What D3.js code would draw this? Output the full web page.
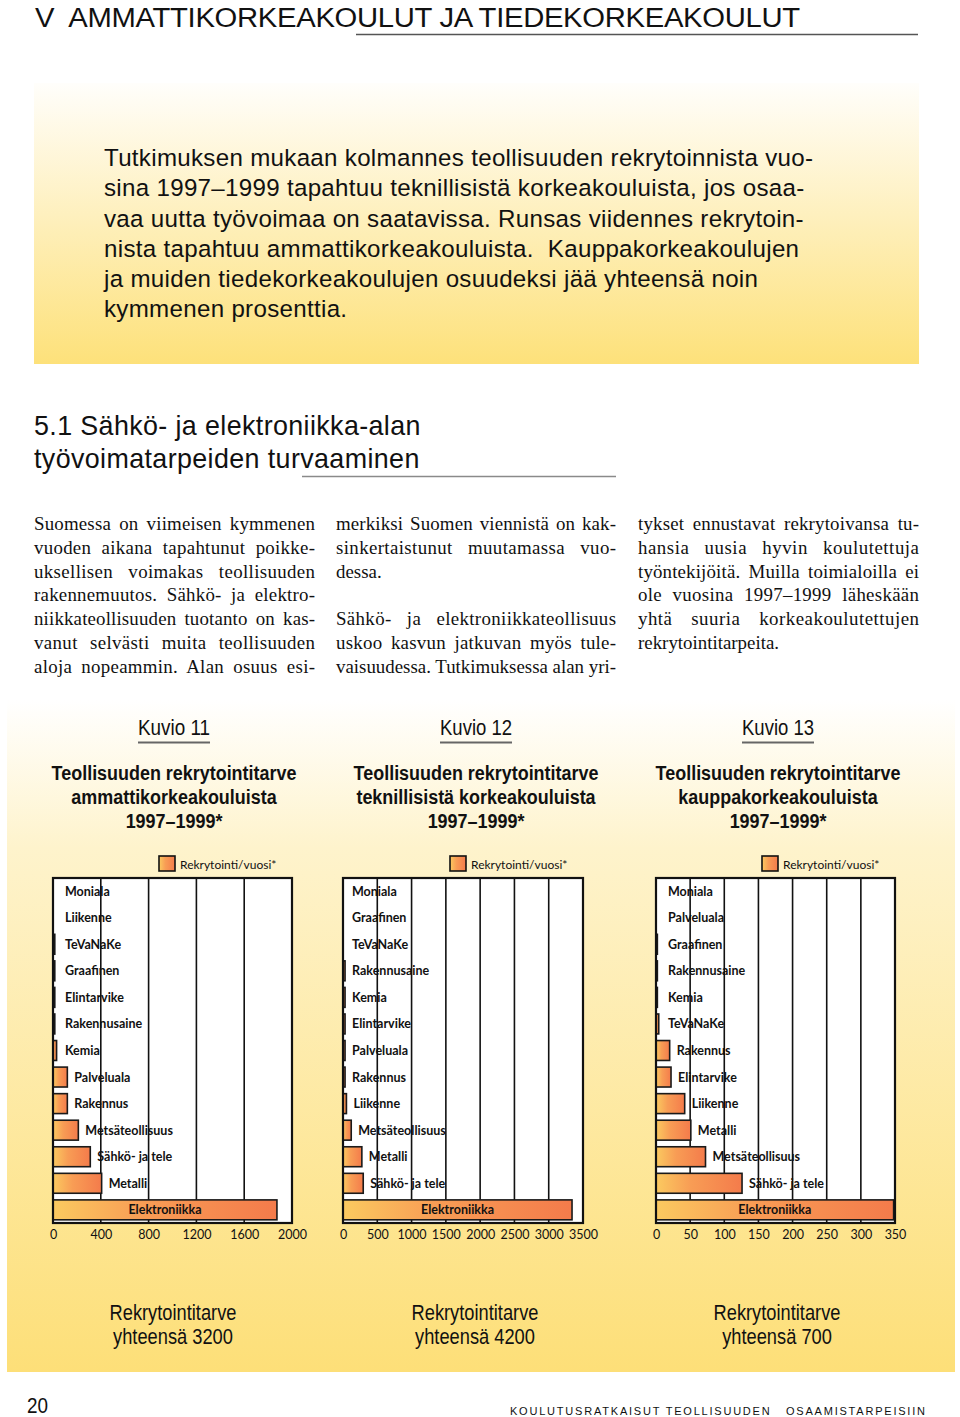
<!DOCTYPE html>
<html><head><meta charset="utf-8">
<script src="https://cdn.jsdelivr.net/npm/d3@7"></script>
<style>body{margin:0;background:#fff}svg{display:block}</style>
</head><body>
<script>
// ---------- DATA ----------
const categories1 = ["Moniala","Liikenne","TeVaNaKe","Graafinen","Elintarvike","Rakennusaine","Kemia","Palveluala","Rakennus","Metsäteollisuus","Sähkö- ja tele","Metalli","Elektroniikka"];
const values1 = [0,0,15,15,15,15,30,120,120,212,312,407,1874];
const ticks1 = [0,400,800,1200,1600,2000];

const categories2 = ["Moniala","Graafinen","TeVaNaKe","Rakennusaine","Kemia","Elintarvike","Palveluala","Rakennus","Liikenne","Metsäteollisuus","Metalli","Sähkö- ja tele","Elektroniikka"];
const values2 = [0,0,0,30,30,30,30,30,50,120,275,295,3340];
const ticks2 = [0,500,1000,1500,2000,2500,3000,3500];

const categories3 = ["Moniala","Palveluala","Graafinen","Rakennusaine","Kemia","TeVaNaKe","Rakennus","Elintarvike","Liikenne","Metalli","Metsäteollisuus","Sähkö- ja tele","Elektroniikka"];
const values3 = [0,0,2,2,2,4,20,22,42,51,72.5,126,348];
const ticks3 = [0,50,100,150,200,250,300,350];

const figureLabels = ["Kuvio 11","Kuvio 12","Kuvio 13"];
const figureTitles = [
  ["Teollisuuden rekrytointitarve","ammattikorkeakouluista","1997–1999*"],
  ["Teollisuuden rekrytointitarve","teknillisistä korkeakouluista","1997–1999*"],
  ["Teollisuuden rekrytointitarve","kauppakorkeakouluista","1997–1999*"]
];
const totals = [3200, 4200, 700];
const legendLabel = "Rekrytointi/vuosi*";

const chapterTitle = "V  AMMATTIKORKEAKOULUT JA TIEDEKORKEAKOULUT";
const introLines = [
  "Tutkimuksen mukaan kolmannes teollisuuden rekrytoinnista vuo-",
  "sina 1997–1999 tapahtuu teknillisistä korkeakouluista, jos osaa-",
  "vaa uutta työvoimaa on saatavissa. Runsas viidennes rekrytoin-",
  "nista tapahtuu ammattikorkeakouluista.  Kauppakorkeakoulujen",
  "ja muiden tiedekorkeakoulujen osuudeksi jää yhteensä noin",
  "kymmenen prosenttia."
];
const sectionLines = ["5.1 Sähkö- ja elektroniikka-alan","työvoimatarpeiden turvaaminen"];
const bodyCol1 = ["Suomessa on viimeisen kymmenen","vuoden aikana tapahtunut poikke-","uksellisen voimakas teollisuuden","rakennemuutos. Sähkö- ja elektro-","niikkateollisuuden tuotanto on kas-","vanut selvästi muita teollisuuden","aloja nopeammin. Alan osuus esi-"];
const bodyCol2 = ["merkiksi Suomen viennistä on kak-","sinkertaistunut muutamassa vuo-","dessa.","","Sähkö- ja elektroniikkateollisuus","uskoo kasvun jatkuvan myös tule-","vaisuudessa. Tutkimuksessa alan yri-"];
const bodyCol3 = ["tykset ennustavat rekrytoivansa tu-","hansia uusia hyvin koulutettuja","työntekijöitä. Muilla toimialoilla ei","ole vuosina 1997–1999 läheskään","yhtä suuria korkeakoulutettujen","rekrytointitarpeita."];
const pageNumber = "20";
const footerText = "KOULUTUSRATKAISUT TEOLLISUUDEN   OSAAMISTARPEISIIN";

// ---------- SETUP ----------
const W = 960, H = 1417;
const SANS = "'Liberation Sans', Arial, sans-serif";
const SERIF = "'Liberation Serif', 'Times New Roman', serif";
const LABEL = "Lato, 'Noto Sans', sans-serif";
const svg = d3.select("body").append("svg").attr("width", W).attr("height", H);
const defs = svg.append("defs");

function vGrad(id, stops) {
  const g = defs.append("linearGradient").attr("id", id).attr("x1",0).attr("y1",0).attr("x2",0).attr("y2",1);
  stops.forEach(s => g.append("stop").attr("offset", s[0]).attr("stop-color", s[1]));
}
vGrad("topBox", [[0,"#fffefb"],[0.5,"#feefba"],[1,"#fde17a"]]);
vGrad("bottomBox", [[0,"#ffffff"],[0.22,"#fef3cc"],[1,"#fddf78"]]);
const bg = defs.append("linearGradient").attr("id","barGrad").attr("x1",0).attr("y1",0).attr("x2",1).attr("y2",0);
[[0,"#fbca60"],[0.4,"#f89d55"],[1,"#f47b4b"]].forEach(s => bg.append("stop").attr("offset", s[0]).attr("stop-color", s[1]));

// condensed multi-line text: scale horizontally so the reference line has refWidth
function condText(parent, lines, o) {
  const g = parent.append("g").attr("transform", `translate(${o.x},${o.y})`);
  const inner = g.append("g");
  const t = inner.selectAll("text").data(lines).join("text")
    .attr("x", 0).attr("y", (d, i) => i * (o.lh || 0))
    .attr("text-anchor", o.anchor || "start")
    .attr("font-family", o.family || SANS)
    .attr("font-size", o.size).attr("font-weight", o.weight || 400)
    .attr("letter-spacing", o.ls || 0)
    .attr("fill", o.fill || "#111")
    .style("white-space", "pre")
    .text(d => d);
  const w = t.nodes()[o.refIndex || 0].getComputedTextLength();
  const s = o.refWidth / w;
  inner.attr("transform", `scale(${s},1)`);
  return g;
}

// justified serif column (glyphs slightly widened to mimic Palatino)
const SX = 1.05;
function bodyColumn(lines, x, y0, lh, width, lastIdx) {
  lines.forEach((line, i) => {
    if (!line) return;
    const g = svg.append("g").attr("transform", `translate(${x},${y0 + i * lh}) scale(${SX},1)`);
    const t = g.append("text").attr("x", 0).attr("y", 0)
      .attr("font-family", SERIF).attr("font-size", 18).attr("fill", "#111").text(line);
    const target = width / SX;
    const w = t.node().getComputedTextLength();
    const justify = !lastIdx.includes(i);
    const spaces = (line.match(/ /g) || []).length;
    if (w > target) {
      t.attr("textLength", target).attr("lengthAdjust", "spacingAndGlyphs");
    } else if (justify && spaces > 0) {
      const extra = target - w;
      const ls = Math.min(extra * 0.35 / (line.length - 1), 0.5);
      const rest = extra - ls * (line.length - 1);
      t.attr("letter-spacing", ls).style("word-spacing", (rest / spaces) + "px");
    }
  });
}

// ---------- PAGE HEADER ----------
condText(svg, [chapterTitle], {x: 35, y: 26.5, size: 28, refWidth: 765, ls: -0.3});
svg.append("line").attr("x1", 356).attr("x2", 918).attr("y1", 34.5).attr("y2", 34.5)
  .attr("stroke", "#555").attr("stroke-width", 1.5);

// ---------- INTRO BOX ----------
svg.append("rect").attr("x", 34).attr("y", 83).attr("width", 885).attr("height", 281).attr("fill", "url(#topBox)");
condText(svg, introLines, {x: 104, y: 166, lh: 30.3, size: 23.5, refWidth: 710, ls: 0.3});

// ---------- SECTION HEADING ----------
condText(svg, sectionLines, {x: 34, y: 435, lh: 33, size: 28.5, refWidth: 387, ls: 0.4});
svg.append("line").attr("x1", 302).attr("x2", 616).attr("y1", 476.5).attr("y2", 476.5)
  .attr("stroke", "#8a8a8a").attr("stroke-width", 1.5);

// ---------- BODY COLUMNS ----------
bodyColumn(bodyCol1, 34, 530, 23.8, 281, []);
bodyColumn(bodyCol2, 336, 530, 23.8, 280, [2]);
bodyColumn(bodyCol3, 638, 530, 23.8, 281, [5]);

// ---------- FIGURE BOX ----------
svg.append("rect").attr("x", 7).attr("y", 700).attr("width", 948).attr("height", 672).attr("fill", "url(#bottomBox)");

const charts = [
  {cats: categories1, vals: values1, ticks: ticks1, x0: 53, x1: 292, inset: 12, cx: 174},
  {cats: categories2, vals: values2, ticks: ticks2, x0: 343, x1: 583, inset: 9, cx: 476},
  {cats: categories3, vals: values3, ticks: ticks3, x0: 656, x1: 895, inset: 12, cx: 778}
];
const TOP = 878, BOT = 1223;

charts.forEach((c, k) => {
  // Kuvio label + underline
  condText(svg, [figureLabels[k]], {x: c.cx, y: 735, size: 22, anchor: "middle", refWidth: 72});
  svg.append("line").attr("x1", c.cx - 36).attr("x2", c.cx + 36).attr("y1", 742.5).attr("y2", 742.5)
    .attr("stroke", "#666").attr("stroke-width", 2);
  // Title
  condText(svg, figureTitles[k], {x: c.cx, y: 780, lh: 24, size: 21, weight: 700, anchor: "middle", refWidth: 245});
  // Totals
  condText(svg, ["Rekrytointitarve", "yhteensä " + totals[k]], {x: c.cx - 1, y: 1320, lh: 24, size: 22, anchor: "middle", refWidth: 127});

  const x = d3.scaleLinear().domain([0, d3.max(c.ticks)]).range([c.x0, c.x1]);
  const y = d3.scaleBand().domain(c.cats).range([TOP, BOT]).paddingInner(0.25).paddingOuter(0.12);
  const g = svg.append("g");

  // frame background
  g.append("rect").attr("x", c.x0).attr("y", TOP).attr("width", c.x1 - c.x0).attr("height", BOT - TOP).attr("fill", "#fff");
  // gridlines
  g.selectAll(".grid").data(c.ticks.slice(1, -1)).join("line")
    .attr("x1", d => x(d)).attr("x2", d => x(d)).attr("y1", TOP).attr("y2", BOT)
    .attr("stroke", "#111").attr("stroke-width", 1.6);
  // bars
  const data = c.cats.map((d, i) => ({cat: d, v: c.vals[i]}));
  g.selectAll(".bar").data(data.filter(d => d.v > 0)).join("rect")
    .attr("x", x(0)).attr("y", d => y(d.cat))
    .attr("width", d => x(d.v) - x(0)).attr("height", y.bandwidth())
    .attr("fill", "url(#barGrad)").attr("stroke", "#1a1a1a").attr("stroke-width", 1.6);
  // frame stroke
  g.append("rect").attr("x", c.x0).attr("y", TOP).attr("width", c.x1 - c.x0).attr("height", BOT - TOP)
    .attr("fill", "none").attr("stroke", "#111").attr("stroke-width", 2.2);
  // labels
  g.selectAll(".lbl").data(data).join("text")
    .attr("font-family", LABEL).attr("font-weight", 700).attr("font-size", 12.5).attr("fill", "#111")
    .attr("dy", "0.36em")
    .attr("y", d => y(d.cat) + y.bandwidth() / 2)
    .each(function(d) {
      const bw = x(d.v) - x(0);
      const t = d3.select(this);
      if (bw > 150) {
        t.attr("x", x(0) + bw / 2).attr("text-anchor", "middle");
      } else {
        t.attr("x", Math.max(c.x0 + c.inset, x(d.v) + 7)).attr("text-anchor", "start");
      }
    })
    .text(d => d.cat);
  // axis
  const ax = g.append("g").attr("transform", `translate(0,${BOT})`)
    .call(d3.axisBottom(x).tickValues(c.ticks).tickSize(0).tickPadding(7).tickFormat(d3.format("d")));
  ax.select(".domain").remove();
  ax.selectAll("text").attr("font-family", LABEL).attr("font-size", 12.5).attr("fill", "#111");
  // legend
  const lx = c.x1 - 133;
  g.append("rect").attr("x", lx).attr("y", 856).attr("width", 16).attr("height", 15)
    .attr("fill", "url(#barGrad)").attr("stroke", "#111").attr("stroke-width", 1.6);
  g.append("text").attr("x", lx + 21).attr("y", 868.5).attr("font-family", LABEL)
    .attr("font-size", 12).attr("fill", "#111").text(legendLabel);
});

// ---------- FOOTER ----------
condText(svg, [pageNumber], {x: 27, y: 1413, size: 22, refWidth: 21});
svg.append("text").attr("x", 510).attr("y", 1415).attr("font-family", SANS).attr("font-size", 11)
  .style("white-space", "pre")
  .attr("textLength", 415).attr("lengthAdjust", "spacing").attr("fill", "#111").text(footerText);
</script>
</body></html>
